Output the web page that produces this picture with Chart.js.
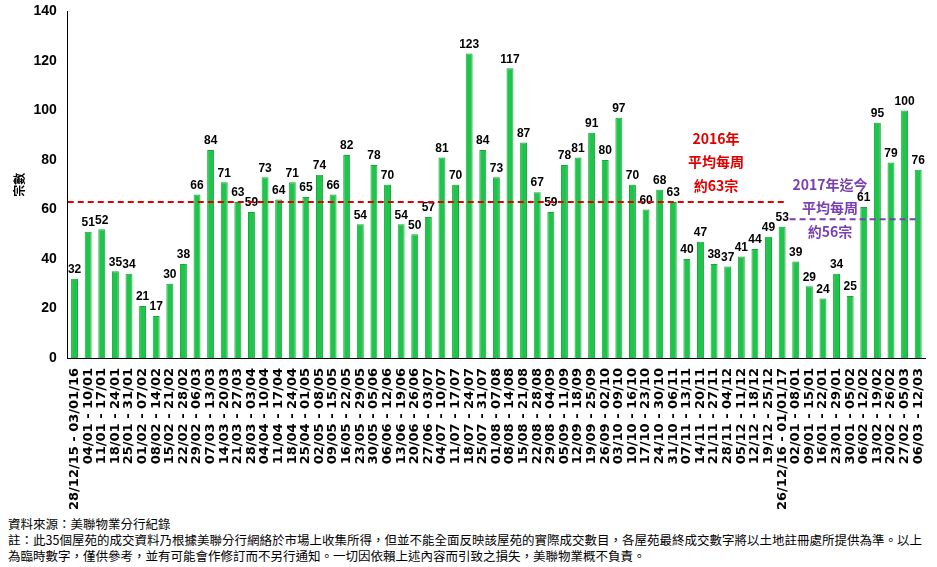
<!DOCTYPE html>
<html><head><meta charset="utf-8">
<script src="https://cdn.jsdelivr.net/npm/chart.js@4"></script>
<style>
body{margin:0;background:#fff;width:937px;height:567px;overflow:hidden;font-family:"Noto Sans CJK TC","Liberation Sans",sans-serif}
#wrap{position:relative;width:937px;height:516px}
#foot{font-size:12.5px;line-height:16px;padding-left:8px;padding-right:14px;color:#000;margin-top:0}
</style></head><body>
<div id="wrap"><canvas id="c"></canvas></div>
<div id="foot">資料來源：美聯物業分行紀錄<br>註：此35個屋苑的成交資料乃根據美聯分行網絡於市場上收集所得，但並不能全面反映該屋苑的實際成交數目，各屋苑最終成交數字將以土地註冊處所提供為準。以上為臨時數字，僅供參考，並有可能會作修訂而不另行通知。一切因依賴上述內容而引致之損失，美聯物業概不負責。</div>
<script>
const labels=["28/12/15 - 03/01/16","04/01 - 10/01","11/01 - 17/01","18/01 - 24/01","25/01 - 31/01","01/02 - 07/02","08/02 - 14/02","15/02 - 21/02","22/02 - 28/02","29/02 - 06/03","07/03 - 13/03","14/03 - 20/03","21/03 - 27/03","28/03 - 03/04","04/04 - 10/04","11/04 - 17/04","18/04 - 24/04","25/04 - 01/05","02/05 - 08/05","09/05 - 15/05","16/05 - 22/05","23/05 - 29/05","30/05 - 05/06","06/06 - 12/06","13/06 - 19/06","20/06 - 26/06","27/06 - 03/07","04/07 - 10/07","11/07 - 17/07","18/07 - 24/07","25/07 - 31/07","01/08 - 07/08","08/08 - 14/08","15/08 - 21/08","22/08 - 28/08","29/08 - 04/09","05/09 - 11/09","12/09 - 18/09","19/09 - 25/09","26/09 - 02/10","03/10 - 09/10","10/10 - 16/10","17/10 - 23/10","24/10 - 30/10","31/10 - 06/11","07/11 - 13/11","14/11 - 20/11","21/11 - 27/11","28/11 - 04/12","05/12 - 11/12","12/12 - 18/12","19/12 - 25/12","26/12/16 - 01/01/17","02/01 - 08/01","09/01 - 15/01","16/01 - 22/01","23/01 - 29/01","30/01 - 05/02","06/02 - 12/02","13/02 - 19/02","20/02 - 26/02","27/02 - 05/03","06/03 - 12/03"];
const values=[32,51,52,35,34,21,17,30,38,66,84,71,63,59,73,64,71,65,74,66,82,54,78,70,54,50,57,81,70,123,84,73,117,87,67,59,78,81,91,80,97,70,60,68,63,40,47,38,37,41,44,49,53,39,29,24,34,25,61,95,79,100,76];
const avg2016=63, avg2017=56, split2017=53;
const yTicks=[0,20,40,60,80,100,120,140];
const note2016=["2016年","平均每周","約63宗"];
const note2017=["2017年迄今","平均每周","約56宗"];

const extras={id:'extras',afterDatasetsDraw(ch){
 const c=ch.ctx,x=ch.scales.x,y=ch.scales.y;
 c.save();
 c.font='bold 12px "Liberation Sans",sans-serif';c.fillStyle='#000';c.textAlign='center';c.textBaseline='bottom';
 values.forEach((v,i)=>c.fillText(v,x.getPixelForValue(i),y.getPixelForValue(v)-3));
 c.setLineDash([6,4]);c.lineWidth=2;
 const half=(x.getPixelForValue(1)-x.getPixelForValue(0))/2;
 c.strokeStyle='#e00000';c.beginPath();
 c.moveTo(x.left,y.getPixelForValue(avg2016));c.lineTo(x.getPixelForValue(split2017)-half*1.4,y.getPixelForValue(avg2016));c.stroke();
 c.strokeStyle='#7a3fb5';c.beginPath();
 c.moveTo(x.getPixelForValue(split2017)-half*0.9,y.getPixelForValue(avg2017));c.lineTo(x.getPixelForValue(values.length-1),y.getPixelForValue(avg2017));c.stroke();
 c.setLineDash([]);
 c.font='bold 14px "Noto Sans CJK TC",sans-serif';c.textBaseline='middle';
 c.fillStyle='#e00000';note2016.forEach((t,k)=>c.fillText(t,716,y.getPixelForValue(88.6)+k*23.5));
 c.fillStyle='#7a3fb5';note2017.forEach((t,k)=>c.fillText(t,830,y.getPixelForValue(70.2)+k*23.5));
 c.restore();
}};
new Chart(document.getElementById('c'),{type:'bar',
 data:{labels,datasets:[{data:values,backgroundColor:'#1fc44a',borderColor:'#17a83b',borderWidth:1,categoryPercentage:0.85,barPercentage:0.6}]},
 options:{responsive:true,maintainAspectRatio:false,animation:false,
  layout:{padding:{left:8,right:12,top:10,bottom:4}},
  plugins:{legend:{display:false},tooltip:{enabled:false}},
  scales:{
   x:{grid:{display:false,drawTicks:true},border:{color:'#000'},
      ticks:{color:'#000',autoSkip:false,maxRotation:90,minRotation:90,font:{size:13,weight:'bold',family:'"DejaVu Sans",sans-serif'},padding:2}},
   y:{min:0,max:140,afterBuildTicks(s){s.ticks=yTicks.map(v=>({value:v}));},
      grid:{display:false,drawTicks:true},border:{color:'#000'},
      title:{display:true,text:'宗數',color:'#000',font:{size:12,weight:'bold',family:'"Noto Sans CJK TC"'}},
      ticks:{color:'#000',font:{size:14,weight:'bold',family:'"Liberation Sans",sans-serif'}}}
  }}, plugins:[extras]});
</script></body></html>
